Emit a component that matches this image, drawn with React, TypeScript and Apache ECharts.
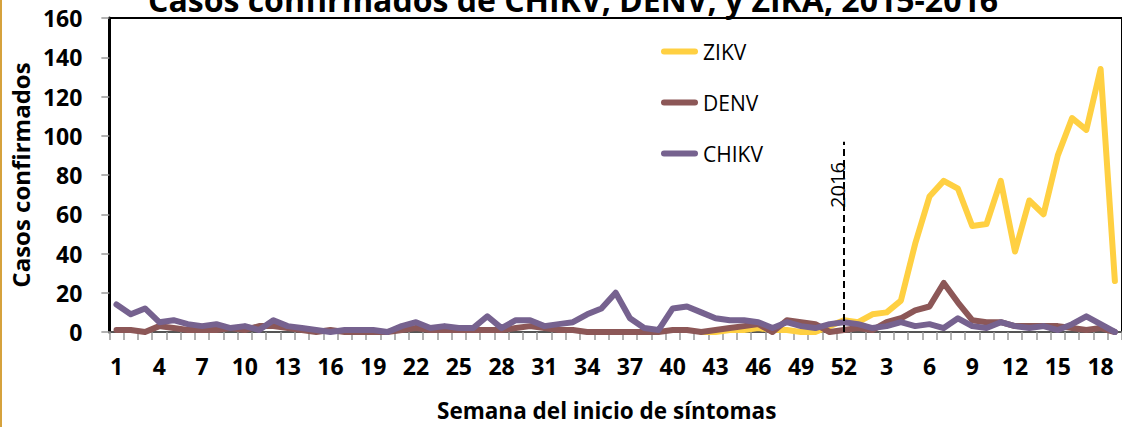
import React, { useEffect, useRef } from "react";
import * as echarts from "echarts";

const weeks2015 = Array.from({ length: 52 }, (_, i) => String(i + 1));
const weeks2016 = ["1","2","3","4","5","6","7","8","9","10","11","12","13","14","15","16","17","18","19"];

// ZIKV not reported before week 42 of 2015
const zikv2015 = [null,null,null,null,null,null,null,null,null,null,null,null,null,null,null,null,null,null,null,null,null,null,null,null,null,null,null,null,null,null,null,null,null,null,null,null,null,null,null,null,null,0,0,1,1,2,1,1,0,0,3,6];
const zikv2016 = [5,9,10,16,45,69,77,73,54,55,77,41,67,60,90,109,103,134,26];

const denv2015 = [1,1,0,3,2,1,1,1,2,1,3,3,2,1,0,1,0,0,0,0,1,2,1,1,1,1,1,1,2,3,2,1,1,0,0,0,0,0,0,1,1,0,1,2,3,4,0,6,5,4,0,1];
const denv2016 = [2,1,5,7,11,13,25,15,6,5,5,3,3,3,3,2,1,2,0];

const chikv2015 = [14,9,12,5,6,4,3,4,2,3,1,6,3,2,1,0,1,1,1,0,3,5,2,3,2,2,8,2,6,6,3,4,5,9,12,20,7,2,1,12,13,10,7,6,6,5,2,5,3,2,4,5];
const chikv2016 = [4,2,3,5,3,4,2,7,3,2,5,3,2,3,1,4,8,4,0];

const yTicks = [0, 20, 40, 60, 80, 100, 120, 140, 160];

const categories = [
  ...weeks2015.map((w) => "2015-" + w),
  ...weeks2016.map((w) => "2016-" + w),
];

const seriesNames = ["ZIKV", "DENV", "CHIKV"];
const seriesColors = ["#FFD042", "#8C5757", "#76628F"];
const seriesValues = [
  [...zikv2015, ...zikv2016],
  [...denv2015, ...denv2016],
  [...chikv2015, ...chikv2016],
];

const yearMarkIndex = 51; // week 52 of 2015
const yearMarkTop = 97;

const FONT = '"Open Sans", "DejaVu Sans", sans-serif';

export default function App() {
  const ref = useRef<HTMLDivElement>(null);
  useEffect(() => {
    if (!ref.current) return;
    const chart = echarts.init(ref.current, undefined, { renderer: "svg" });
    const legendIcon = "path://M3,0 L34,0 A3,3 0 0 1 34,6 L3,6 A3,3 0 0 1 3,0 Z";
    chart.setOption({
      animation: false,
      backgroundColor: "#fff",
      title: {
        text: "Casos confirmados de CHIKV, DENV, y ZIKA, 2015-2016",
        left: 568,
        textAlign: "center",
        top: -22,
        textStyle: { fontFamily: FONT, fontWeight: "bold", fontSize: 32, color: "#000" },
      },
      legend: {
        orient: "vertical",
        left: 656,
        top: 36,
        itemGap: 30,
        itemWidth: 37,
        itemHeight: 6,
        icon: legendIcon,
        data: seriesNames,
        textStyle: { fontFamily: FONT, fontSize: 21, color: "#000" },
      },
      grid: {
        left: 109,
        top: 18,
        width: 1020,
        height: 319,
        show: true,
        borderColor: "#000",
        borderWidth: 2,
        backgroundColor: "transparent",
      },
      xAxis: {
        type: "category",
        data: categories,
        boundaryGap: true,
        axisLine: { show: true, lineStyle: { color: "#555", width: 2 } },
        axisTick: { show: true, interval: 0, length: 8, lineStyle: { color: "#999", width: 1.5 } },
        axisLabel: {
          interval: 2,
          margin: 22,
          fontFamily: FONT,
          fontWeight: "bold",
          fontSize: 23,
          color: "#000",
          formatter: (v: string) => v.split("-")[1],
        },
        splitLine: { show: false },
        name: "Semana del inicio de síntomas",
        nameLocation: "middle",
        nameGap: 67,
        nameTextStyle: {
          fontFamily: FONT,
          fontWeight: "bold",
          fontSize: 22.5,
          color: "#000",
          padding: [0, 18, 0, 0],
        },
      },
      yAxis: {
        type: "value",
        min: yTicks[0],
        max: yTicks[yTicks.length - 1],
        interval: yTicks[1] - yTicks[0],
        axisLine: { show: true, lineStyle: { color: "#000", width: 3 } },
        axisTick: { show: true, length: 8, lineStyle: { color: "#999", width: 1.5 } },
        axisLabel: {
          margin: 27,
          fontFamily: FONT,
          fontWeight: "bold",
          fontSize: 23,
          color: "#000",
        },
        splitLine: { show: false },
        name: "Casos confirmados",
        nameLocation: "middle",
        nameGap: 76,
        nameTextStyle: { fontFamily: FONT, fontWeight: "bold", fontSize: 24, color: "#000" },
      },
      series: seriesNames.map((name, k) => ({
        name,
        type: "line",
        data: seriesValues[k],
        color: seriesColors[k],
        symbol: "none",
        showSymbol: false,
        connectNulls: false,
        z: 2 + k,
        lineStyle: { color: seriesColors[k], width: 6, cap: "round", join: "round" },
        markLine:
          k === 2
            ? {
                silent: true,
                symbol: ["none", "none"],
                label: { show: false },
                lineStyle: { color: "#000", width: 2, type: [7, 4] },
                data: [[{ coord: [yearMarkIndex, 0] }, { coord: [yearMarkIndex, yearMarkTop] }]],
              }
            : undefined,
      })),
      graphic: [
        {
          type: "rect",
          left: 0,
          top: 0,
          shape: { x: 0, y: 0, width: 2, height: 427 },
          style: { fill: "#D6A23C" },
          silent: true,
        },
        {
          type: "text",
          x: 837,
          y: 185,
          rotation: Math.PI / 2,
          style: {
            text: "2016",
            fontFamily: FONT,
            fontSize: 20,
            fill: "#000",
            align: "center",
            verticalAlign: "middle",
          },
          silent: true,
        },
      ],
    });
    return () => chart.dispose();
  }, []);
  return (
    <div
      ref={ref}
      style={{ position: "absolute", left: 0, top: 0, width: 1122, height: 427 }}
    />
  );
}
